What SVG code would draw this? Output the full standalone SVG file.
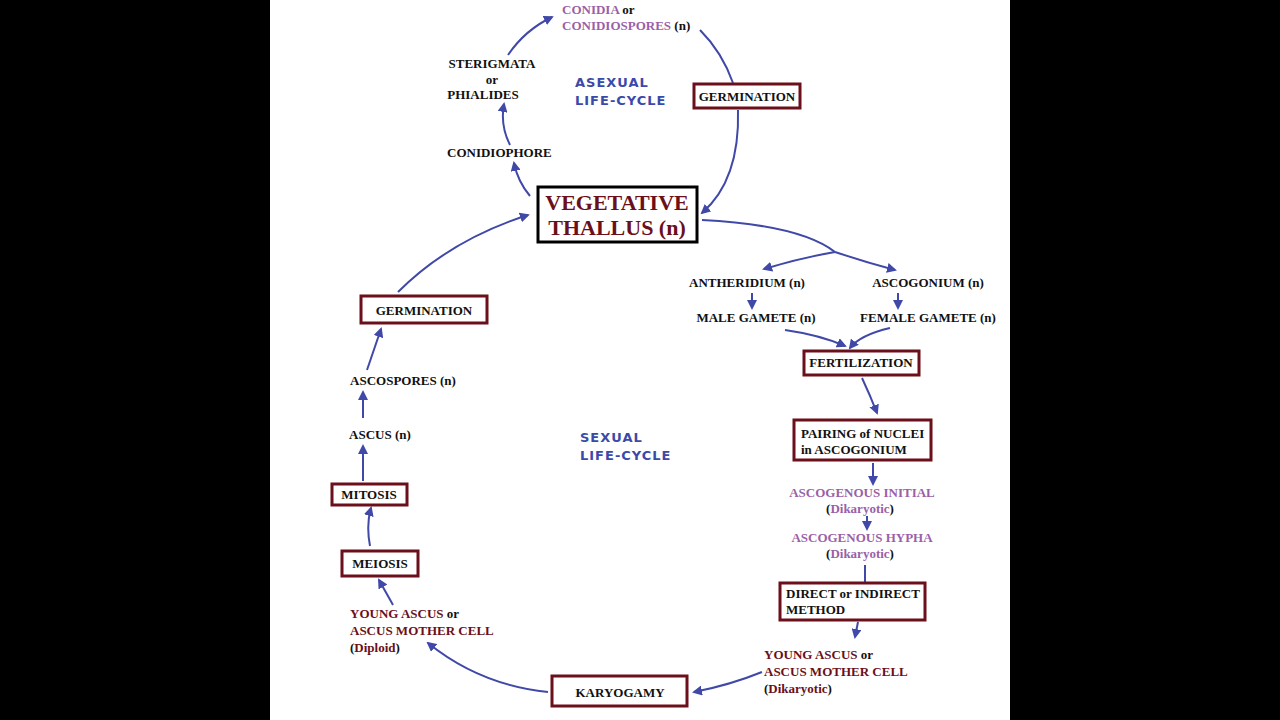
<svg xmlns="http://www.w3.org/2000/svg" width="1280" height="720" viewBox="0 0 1280 720">
<style>
text{font-family:"Liberation Serif","Times New Roman",serif;font-weight:bold;}
.t{font-size:13px;fill:#111}
.r{fill:#6b0f1a}
.p{fill:#9b5fa8}
.box{fill:#fff;stroke:#6b0f1a;stroke-width:3}
.lab{font-family:"DejaVu Sans",sans-serif;font-size:13px;fill:#3b4aa8;letter-spacing:1px}
.c path{fill:none;stroke:#4048a8;stroke-width:2}
</style>
<defs><marker id="a" viewBox="0 0 10 10" refX="8" refY="5" markerWidth="5" markerHeight="5" orient="auto"><path d="M0,0L10,5L0,10z" fill="#4048a8"/></marker></defs>
<rect width="1280" height="720" fill="#000"/>
<rect x="270" width="740" height="720" fill="#fff"/>
<g class="c">
<path d="M530,196 Q518,182 514,163" marker-end="url(#a)"/>
<path d="M510,145 Q500,125 504,104" marker-end="url(#a)"/>
<path d="M508,55 Q525,30 552,17" marker-end="url(#a)"/>
<path d="M700,30 Q722,52 733,83"/>
<path d="M738,110 Q740,180 702,213" marker-end="url(#a)"/>
<path d="M702,220 Q800,225 835,252"/>
<path d="M835,252 Q800,258 764,269" marker-end="url(#a)"/>
<path d="M835,252 Q865,262 895,270" marker-end="url(#a)"/>
<path d="M752,293 L752,308" marker-end="url(#a)"/>
<path d="M898,293 L898,308" marker-end="url(#a)"/>
<path d="M785,330 Q820,335 845,346" marker-end="url(#a)"/>
<path d="M890,328 Q860,335 850,348" marker-end="url(#a)"/>
<path d="M862,378 Q870,395 877,413" marker-end="url(#a)"/>
<path d="M873,463 L873,484" marker-end="url(#a)"/>
<path d="M867,516 L867,529" marker-end="url(#a)"/>
<path d="M865,565 L865,582"/>
<path d="M858,622 L855,637" marker-end="url(#a)"/>
<path d="M762,672 Q730,685 694,692" marker-end="url(#a)"/>
<path d="M548,692 Q480,685 428,643" marker-end="url(#a)"/>
<path d="M393,605 L379,580" marker-end="url(#a)"/>
<path d="M370,546 Q366,525 371,508" marker-end="url(#a)"/>
<path d="M363,481 L363,446" marker-end="url(#a)"/>
<path d="M363,418 L363,392" marker-end="url(#a)"/>
<path d="M367,370 L381,329" marker-end="url(#a)"/>
<path d="M398,292 Q450,240 528,215" marker-end="url(#a)"/>
</g>
<g id="veg"><rect x="538" y="187" width="159" height="55" fill="#fff" stroke="#000" stroke-width="3"/>
<text x="617" y="210" text-anchor="middle" font-size="22" class="r">VEGETATIVE</text>
<text x="617" y="235" text-anchor="middle" font-size="22" class="r">THALLUS (n)</text></g>
<g id="germ1"><rect class="box" x="694" y="84" width="106" height="24"/><text class="t" x="747" y="101" text-anchor="middle">GERMINATION</text></g>
<g id="germ2"><rect class="box" x="361" y="296" width="126" height="27"/><text class="t" x="424" y="315" text-anchor="middle" font-size="14">GERMINATION</text></g>
<g id="fert"><rect class="box" x="804" y="351" width="115" height="24"/><text class="t" x="861" y="367" text-anchor="middle">FERTILIZATION</text></g>
<g id="pair"><rect class="box" x="794" y="420" width="137" height="40"/><text class="t" x="801" y="438">PAIRING of NUCLEI</text><text class="t" x="801" y="454">in ASCOGONIUM</text></g>
<g id="direct"><rect class="box" x="780" y="583" width="145" height="37"/><text class="t" x="786" y="598">DIRECT or INDIRECT</text><text class="t" x="786" y="614">METHOD</text></g>
<g id="kary"><rect class="box" x="552" y="676" width="135" height="30"/><text class="t" x="620" y="697" text-anchor="middle" font-size="16">KARYOGAMY</text></g>
<g id="mitosis"><rect class="box" x="332" y="484" width="75" height="21"/><text class="t" x="369" y="499" text-anchor="middle">MITOSIS</text></g>
<g id="meiosis"><rect class="box" x="342" y="551" width="76" height="25"/><text class="t" x="380" y="568" text-anchor="middle">MEIOSIS</text></g>
<g id="conidia"><text class="t" x="562" y="14"><tspan class="p">CONIDIA</tspan> or</text><text class="t" x="562" y="30"><tspan class="p">CONIDIOSPORES</tspan> (n)</text></g>
<g id="sterig"><text class="t" x="492" y="68" text-anchor="middle">STERIGMATA</text><text class="t" x="492" y="84" text-anchor="middle" font-size="11">or</text><text class="t" x="483" y="99" text-anchor="middle">PHIALIDES</text></g>
<g id="conidiophore"><text class="t" x="447" y="157">CONIDIOPHORE</text></g>
<g id="asex"><text class="lab" x="575" y="87">ASEXUAL</text><text class="lab" x="575" y="105">LIFE-CYCLE</text></g>
<g id="sex"><text class="lab" x="580" y="442">SEXUAL</text><text class="lab" x="580" y="460">LIFE-CYCLE</text></g>
<g id="anth"><text class="t" x="747" y="287" text-anchor="middle">ANTHERIDIUM (n)</text></g>
<g id="ascog"><text class="t" x="928" y="287" text-anchor="middle">ASCOGONIUM (n)</text></g>
<g id="male"><text class="t" x="756" y="322" text-anchor="middle">MALE GAMETE (n)</text></g>
<g id="female"><text class="t" x="928" y="322" text-anchor="middle">FEMALE GAMETE (n)</text></g>
<g id="init"><text class="t p" x="862" y="497" text-anchor="middle">ASCOGENOUS INITIAL</text><text class="t" x="860" y="513" text-anchor="middle">(<tspan class="p">Dikaryotic</tspan>)</text></g>
<g id="hypha"><text class="t p" x="862" y="542" text-anchor="middle">ASCOGENOUS HYPHA</text><text class="t" x="860" y="558" text-anchor="middle">(<tspan class="p">Dikaryotic</tspan>)</text></g>
<g id="yar"><text class="t" x="764" y="659" font-size="14"><tspan class="r">YOUNG ASCUS</tspan> or</text><text class="t r" x="764" y="676" font-size="14">ASCUS MOTHER CELL</text><text class="t" x="764" y="693" font-size="14">(<tspan class="r">Dikaryotic</tspan>)</text></g>
<g id="yal"><text class="t" x="350" y="618"><tspan class="r">YOUNG ASCUS</tspan> or</text><text class="t r" x="350" y="635">ASCUS MOTHER CELL</text><text class="t" x="350" y="652">(<tspan class="r">Diploid</tspan>)</text></g>
<g id="ascus"><text class="t" x="380" y="439" text-anchor="middle" font-size="18">ASCUS (n)</text></g>
<g id="ascospores"><text class="t" x="403" y="385" text-anchor="middle">ASCOSPORES (n)</text></g>
</svg>
